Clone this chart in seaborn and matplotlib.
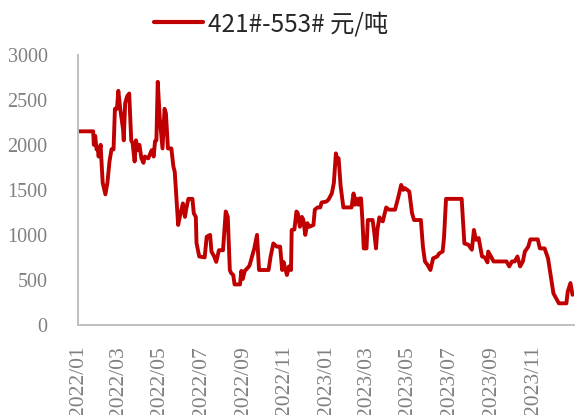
import pandas as pd
import matplotlib
matplotlib.use("Agg")
import matplotlib.pyplot as plt
import matplotlib.dates as mdates
import seaborn as sns

dates = [
    "2022-01-01", "2022-01-23", "2022-01-24", "2022-01-26", "2022-01-28", "2022-01-30",
    "2022-01-31", "2022-02-03", "2022-02-04", "2022-02-06", "2022-02-10", "2022-02-13",
    "2022-02-16", "2022-02-19", "2022-02-22", "2022-02-24", "2022-02-27", "2022-03-01",
    "2022-03-04", "2022-03-08", "2022-03-09", "2022-03-11", "2022-03-14", "2022-03-17",
    "2022-03-20", "2022-03-22", "2022-03-25", "2022-03-27", "2022-03-30", "2022-04-01",
    "2022-04-04", "2022-04-07", "2022-04-09", "2022-04-14", "2022-04-19", "2022-04-22",
    "2022-04-24", "2022-04-26", "2022-04-28", "2022-05-01", "2022-05-05", "2022-05-08",
    "2022-05-10", "2022-05-13", "2022-05-18", "2022-05-21", "2022-05-23", "2022-05-28",
    "2022-05-31", "2022-06-04", "2022-06-07", "2022-06-09", "2022-06-12", "2022-06-18",
    "2022-06-20", "2022-06-23", "2022-06-24", "2022-06-28", "2022-07-06", "2022-07-09",
    "2022-07-14", "2022-07-16", "2022-07-20", "2022-07-23", "2022-07-27", "2022-08-02",
    "2022-08-06", "2022-08-09", "2022-08-12", "2022-08-14", "2022-08-17", "2022-08-19",
    "2022-08-27", "2022-08-29", "2022-08-31", "2022-09-03", "2022-09-08", "2022-09-10",
    "2022-09-17", "2022-09-21", "2022-09-24", "2022-10-08", "2022-10-11", "2022-10-15",
    "2022-10-20", "2022-10-25", "2022-10-28", "2022-10-30", "2022-11-04", "2022-11-07",
    "2022-11-10", "2022-11-11", "2022-11-15", "2022-11-18", "2022-11-20", "2022-11-23",
    "2022-11-26", "2022-11-28", "2022-12-01", "2022-12-04", "2022-12-07", "2022-12-13",
    "2022-12-15", "2022-12-19", "2022-12-23", "2022-12-25", "2023-01-01", "2023-01-04",
    "2023-01-09", "2023-01-12", "2023-01-15", "2023-01-17", "2023-01-19", "2023-01-22",
    "2023-01-26", "2023-02-07", "2023-02-10", "2023-02-12", "2023-02-14", "2023-02-17",
    "2023-02-19", "2023-02-21", "2023-02-23", "2023-02-25", "2023-03-01", "2023-03-03",
    "2023-03-10", "2023-03-12", "2023-03-15", "2023-03-17", "2023-03-20", "2023-03-22",
    "2023-03-25", "2023-03-30", "2023-04-03", "2023-04-12", "2023-04-17", "2023-04-21",
    "2023-04-24", "2023-04-26", "2023-04-30", "2023-05-03", "2023-05-07", "2023-05-10",
    "2023-05-20", "2023-05-23", "2023-05-26", "2023-05-30", "2023-06-03", "2023-06-07",
    "2023-06-13", "2023-06-16", "2023-06-21", "2023-06-23", "2023-06-26", "2023-07-19",
    "2023-07-23", "2023-07-29", "2023-08-03", "2023-08-06", "2023-08-09", "2023-08-13",
    "2023-08-15", "2023-08-18", "2023-08-22", "2023-08-26", "2023-08-27", "2023-08-31",
    "2023-09-04", "2023-09-23", "2023-09-27", "2023-10-01", "2023-10-05", "2023-10-09",
    "2023-10-13", "2023-10-17", "2023-10-20", "2023-10-25", "2023-10-28", "2023-11-08",
    "2023-11-11", "2023-11-18", "2023-11-23", "2023-11-28", "2023-12-01", "2023-12-09",
    "2023-12-20", "2023-12-22", "2023-12-26", "2023-12-29",
]
spread = [
    2150, 2150, 2000, 2100, 1950, 1950,
    1870, 2000, 1850, 1580, 1450, 1580,
    1815, 1950, 1950, 2400, 2400, 2600,
    2390, 2170, 2050, 2460, 2540, 2570,
    2050, 2020, 1815, 2050, 1940, 2000,
    1850, 1800, 1870, 1850, 1940, 1870,
    2040, 2050, 2700, 2290, 1960, 2400,
    2350, 1960, 1960, 1760, 1700, 1110,
    1220, 1350, 1200, 1290, 1400, 1400,
    1240, 1200, 910, 760, 750, 980,
    1000, 815, 760, 700, 830, 830,
    1260, 1200, 610, 575, 555, 450,
    450, 600, 510, 600, 640, 660,
    850, 1000, 610, 610, 760, 905,
    870, 870, 610, 700, 555, 650,
    610, 1055, 1060, 1260, 1240, 1090,
    1200, 1170, 1000, 1130, 1090, 1110,
    1280, 1305, 1305, 1360, 1370, 1390,
    1460, 1575, 1905, 1835, 1850, 1540,
    1305, 1305, 1460, 1335, 1405, 1335,
    1405, 1405, 1165, 850, 850, 1165,
    1165, 1055, 850, 1055, 1195, 1165,
    1150, 1305, 1280, 1280, 1425, 1555,
    1500, 1520, 1500, 1480, 1240, 1165,
    1165, 870, 705, 665, 610, 740,
    760, 795, 815, 965, 1400, 1400,
    905, 890, 835, 1055, 945, 965,
    880, 760, 750, 695, 815, 760,
    705, 705, 650, 705, 705, 760,
    650, 705, 815, 870, 950, 950,
    850, 850, 740, 500, 350, 240,
    240, 370, 465, 335,
]
series_name = "421#-553# 元/吨"
y_ticks = [0, 500, 1000, 1500, 2000, 2500, 3000]

df = pd.DataFrame({"date": pd.to_datetime(dates), "value": spread, "series": series_name})

sns.set_style("white")
plt.rcParams["font.family"] = ["Noto Sans CJK SC", "DejaVu Sans"]

fig = plt.figure(figsize=(5.75, 4.15), dpi=100)
ax = fig.add_axes([0.136, 0.217, 0.862, 0.651])

sns.lineplot(data=df, x="date", y="value", hue="series", palette=["#C00000"],
             linewidth=2.8, ax=ax, legend=False)

ax.set_ylim(0, 3000)
ax.set_yticks(y_ticks)
ax.set_xlim(pd.Timestamp("2022-01-01"), pd.Timestamp("2023-12-31"))
ax.xaxis.set_major_locator(mdates.MonthLocator(bymonth=[1, 3, 5, 7, 9, 11]))
ax.xaxis.set_major_formatter(mdates.DateFormatter("%Y/%m"))
ax.set_xlabel("")
ax.set_ylabel("")

gray = "#bfbfbf"
for side in ["top", "right"]:
    ax.spines[side].set_visible(False)
for side in ["left", "bottom"]:
    ax.spines[side].set_color(gray)
    ax.spines[side].set_linewidth(1.4)

ax.tick_params(axis="y", colors=gray, length=5, width=1.2, direction="out", pad=17)
ax.tick_params(axis="x", colors=gray, length=6, width=1.2, direction="out", pad=9)
for lab in ax.get_yticklabels():
    lab.set_family("Liberation Serif")
    lab.set_fontsize(14.5)
    lab.set_color("#808080")
for lab in ax.get_xticklabels():
    lab.set_family("Liberation Serif")
    lab.set_fontsize(15.5)
    lab.set_color("#808080")
    lab.set_rotation(90)

handle = plt.Line2D([], [], color="#C00000", linewidth=3)
fig.legend([handle], [series_name], loc="center", bbox_to_anchor=(271 / 575, 1 - 24 / 415),
           frameon=False, fontsize=17.5, handlelength=2.0, handletextpad=0.2)

fig.savefig("out.png", dpi=100)
